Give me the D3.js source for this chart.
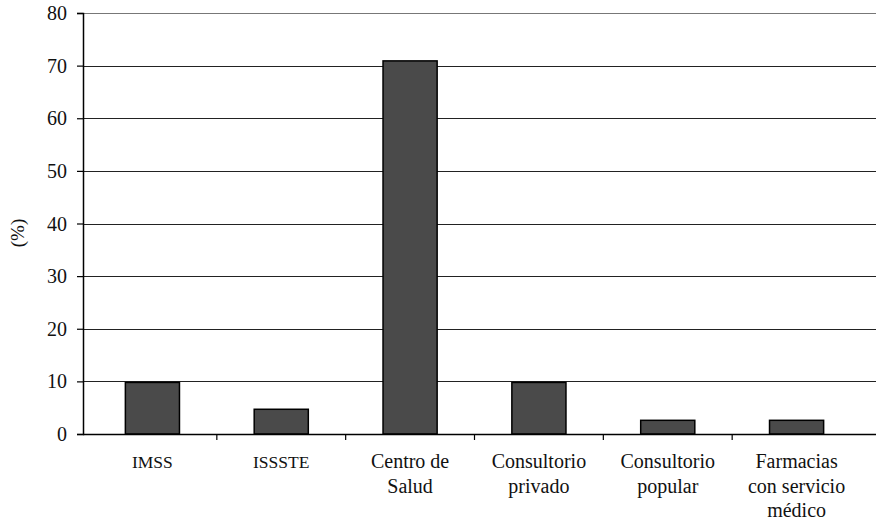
<!DOCTYPE html>
<html>
<head>
<meta charset="utf-8">
<script src="https://cdn.jsdelivr.net/npm/d3@7/dist/d3.min.js"></script>
</head>
<body style="margin:0;background:#fff">
<svg id="chart" width="876" height="523" style="display:block"></svg>
<script>
// Lugar de atención (%)
const categories = [
  ["IMSS"],
  ["ISSSTE"],
  ["Centro de", "Salud"],
  ["Consultorio", "privado"],
  ["Consultorio", "popular"],
  ["Farmacias", "con servicio", "médico"]
];
const values = [9.8, 4.7, 70.9, 9.8, 2.6, 2.6];
const yTicks = [0, 10, 20, 30, 40, 50, 60, 70, 80];
const yTitle = "(%)";

const FONT = "'Liberation Serif'";
const svg = d3.select("#chart");
const axisLeftX = 83, plotLeft = 88, plotRight = 861, plotTop = 13, plotBottom = 434, gridEnd = 876;

const x = d3.scaleBand()
  .domain(d3.range(categories.length))
  .range([plotLeft, plotRight])
  .paddingInner(0.58)
  .paddingOuter(0.29);

const y = d3.scaleLinear().domain([0, 80]).range([plotBottom, plotTop]);

// horizontal gridlines
svg.append("g")
  .selectAll("line")
  .data(yTicks.filter(d => d > 0))
  .join("line")
  .attr("x1", axisLeftX).attr("x2", gridEnd)
  .attr("y1", d => Math.round(y(d)) + 0.5)
  .attr("y2", d => Math.round(y(d)) + 0.5)
  .attr("stroke", d => d === 80 ? "#777" : "#222")
  .attr("stroke-width", 1);

// bars
svg.append("g")
  .selectAll("rect")
  .data(values)
  .join("rect")
  .attr("x", (d, i) => x(i))
  .attr("y", d => y(d))
  .attr("width", x.bandwidth())
  .attr("height", d => plotBottom - y(d))
  .attr("fill", "#4a4a4a")
  .attr("stroke", "#000")
  .attr("stroke-width", 1.5);

// y axis
const yAxis = d3.axisLeft(y).tickValues(yTicks).tickSize(6).tickPadding(10);
const gy = svg.append("g").attr("transform", `translate(${axisLeftX},0)`).call(yAxis);
gy.select(".domain").attr("stroke", "#000").attr("stroke-width", 1.5);
gy.selectAll(".tick line").attr("stroke", "#000").attr("stroke-width", 1.2);
gy.selectAll(".tick text")
  .style("font-family", FONT)
  .style("font-size", "20px")
  .attr("fill", "#111")
  .attr("dy", "0.33em");

// x axis with ticks on category boundaries
const boundaries = d3.range(1, categories.length).map(i => x(i) - (x.step() - x.bandwidth()) / 2);
svg.append("line")
  .attr("x1", axisLeftX).attr("x2", gridEnd)
  .attr("y1", plotBottom + 0.5).attr("y2", plotBottom + 0.5)
  .attr("stroke", "#000").attr("stroke-width", 1.5);
svg.append("g")
  .selectAll("line")
  .data(boundaries)
  .join("line")
  .attr("x1", d => d).attr("x2", d => d)
  .attr("y1", plotBottom).attr("y2", plotBottom + 6)
  .attr("stroke", "#000").attr("stroke-width", 1.2);

// category labels
const labels = svg.append("g")
  .selectAll("text")
  .data(categories)
  .join("text")
  .attr("text-anchor", "middle")
  .attr("x", (d, i) => x(i) + x.bandwidth() / 2)
  .attr("y", 468)
  .attr("fill", "#111")
  .style("font-family", FONT)
  .style("font-size", d => d.length === 1 ? "17.5px" : "20px");
labels.selectAll("tspan")
  .data(d => d)
  .join("tspan")
  .attr("x", function () { return d3.select(this.parentNode).attr("x"); })
  .attr("dy", (d, i) => i === 0 ? 0 : 24.5)
  .text(d => d);

// y axis title
svg.append("text")
  .attr("transform", "translate(24,233) rotate(-90)")
  .attr("text-anchor", "middle")
  .attr("fill", "#111")
  .style("font-family", FONT)
  .style("font-size", "19px")
  .text(yTitle);
</script>
</body>
</html>
